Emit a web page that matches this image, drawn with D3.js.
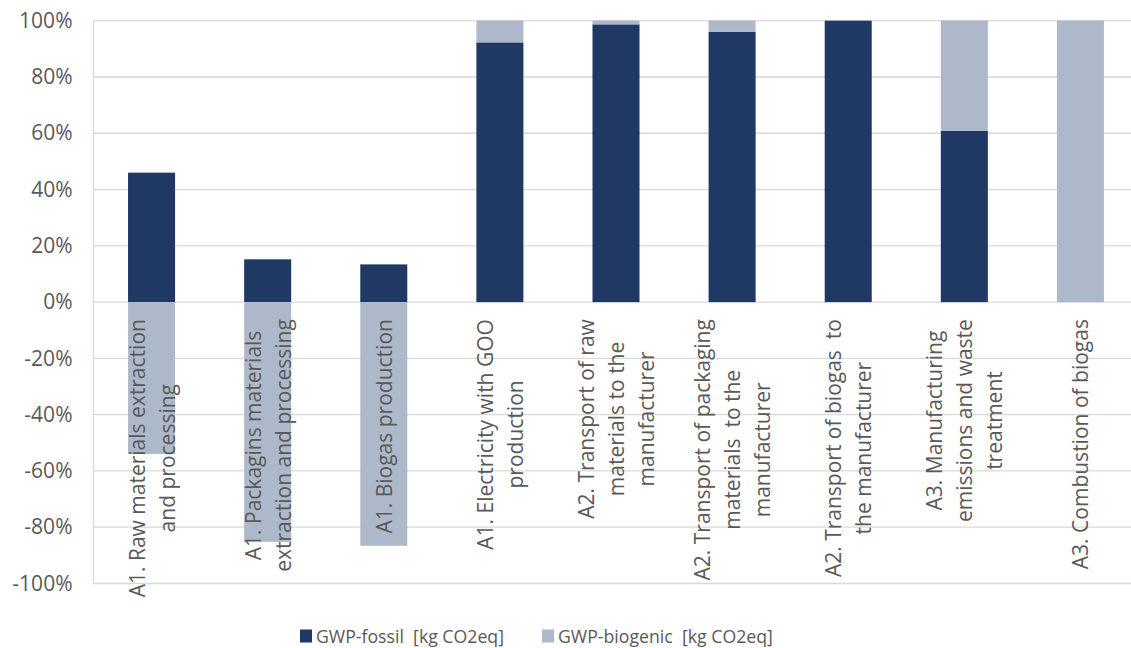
<!DOCTYPE html>
<html>
<head>
<meta charset="utf-8">
<script src="https://cdn.jsdelivr.net/npm/d3@7"></script>
<style>
  body { margin: 0; background: #fff; }
  svg { display: block; font-family: "Open Sans", sans-serif; }
  text { white-space: pre; }
</style>
</head>
<body>
<svg id="chart"></svg>
<script>
// data (percent)
const categories = [
  'A1. Raw materials extraction\nand processing',
  'A1. Packagins materials\nextraction and processing',
  'A1. Biogas production',
  'A1. Electricity with GOO\nproduction',
  'A2. Transport of raw\nmaterials to the\nmanufacturer',
  'A2. Transport of packaging\nmaterials  to the\nmanufacturer',
  'A2. Transport of biogas  to\nthe manufacturer',
  'A3. Manufacturing\nemissions and waste\ntreatment',
  'A3. Combustion of biogas'
]
const fossil = [46, 15.2, 13.4, 92.3, 98.7, 96, 100, 60.9, 0]
const biogenic = [-54, -85.2, -86.6, 7.7, 1.3, 4, 0, 39.1, 100]
const seriesNames = ['GWP-fossil  [kg CO2eq]', 'GWP-biogenic  [kg CO2eq]']
const yTicks = [-100, -80, -60, -40, -20, 0, 20, 40, 60, 80, 100]

const colors = ['#203864', '#adb9ca']
const w = 1131
const h = 648

const svg = d3.select('#chart')
    .attr('width', w)
    .attr('height', h)

const rows = categories.map((c, i) => ({cat: c, fossil: fossil[i], biogenic: biogenic[i]}))
const stacked = d3.stack()
    .keys(['fossil', 'biogenic'])
    .offset(d3.stackOffsetDiverging)(rows)

const x = d3.scaleBand()
    .domain(categories)
    .range([93.5, 1138.5])
    .paddingInner(0.595)
    .paddingOuter(0.2975)

const y = d3.scaleLinear()
    .domain([-100, 100])
    .range([583.5, 20.7])

// gridlines
svg.append('g')
    .selectAll('line')
    .data(yTicks)
    .join('line')
    .attr('x1', 93.5)
    .attr('x2', 1138.5)
    .attr('y1', d => y(d))
    .attr('y2', d => y(d))
    .attr('stroke', '#d9d9d9')
    .attr('stroke-width', 1.3)

svg.append('line')
    .attr('x1', 93.5).attr('x2', 93.5)
    .attr('y1', y(100)).attr('y2', y(-100))
    .attr('stroke', '#d9d9d9')
    .attr('stroke-width', 1.3)

// y axis labels
const yAxis = d3.axisLeft(y)
    .tickValues(yTicks)
    .tickFormat(d => d + '%')
    .tickSize(0)
    .tickPadding(21)

svg.append('g')
    .attr('transform', 'translate(93.5,0)')
    .call(yAxis)
    .call(g => g.select('.domain').remove())
    .call(g => g.selectAll('text')
        .attr('fill', '#595959')
        .style('font-size', '21px')
        .style('font-family', '"Open Sans", sans-serif'))

// bars
svg.append('g')
    .selectAll('g')
    .data(stacked)
    .join('g')
    .attr('fill', (d, i) => colors[i])
    .selectAll('rect')
    .data(d => d)
    .join('rect')
    .attr('x', d => x(d.data.cat))
    .attr('y', d => y(Math.max(d[0], d[1])))
    .attr('width', x.bandwidth())
    .attr('height', d => Math.abs(y(d[0]) - y(d[1])))

// category labels, rotated, hanging below the zero line
const lineH = 30
const labels = svg.append('g')
    .selectAll('g')
    .data(categories)
    .join('g')
    .attr('transform', d => `translate(${x(d) + x.bandwidth() / 2},${y(0) + 17}) rotate(-90)`)

labels.each(function (d) {
    const g = d3.select(this)
    const lines = d.split('\n')
    const n = lines.length
    const texts = g.selectAll('text')
        .data(lines)
        .join('text')
        .attr('y', (l, i) => (i - (n - 1) / 2) * lineH)
        .attr('dominant-baseline', 'central')
        .attr('text-anchor', 'middle')
        .attr('fill', '#595959')
        .style('font-size', '21px')
        .text(l => l)
    let maxLen = 0
    texts.each(function () { maxLen = Math.max(maxLen, this.getComputedTextLength()) })
    texts.attr('x', -maxLen / 2)
})

// legend
const legendX = [300, 542]
const legend = svg.append('g')
    .selectAll('g')
    .data(seriesNames)
    .join('g')
    .attr('transform', (d, i) => `translate(${legendX[i]},636)`)

legend.append('rect')
    .attr('x', 0)
    .attr('y', -6.5)
    .attr('width', 12)
    .attr('height', 13)
    .attr('fill', (d, i) => colors[i])

legend.append('text')
    .attr('x', 16)
    .attr('dominant-baseline', 'central')
    .attr('fill', '#595959')
    .style('font-size', '17.7px')
    .text(d => d)
</script>
</body>
</html>
